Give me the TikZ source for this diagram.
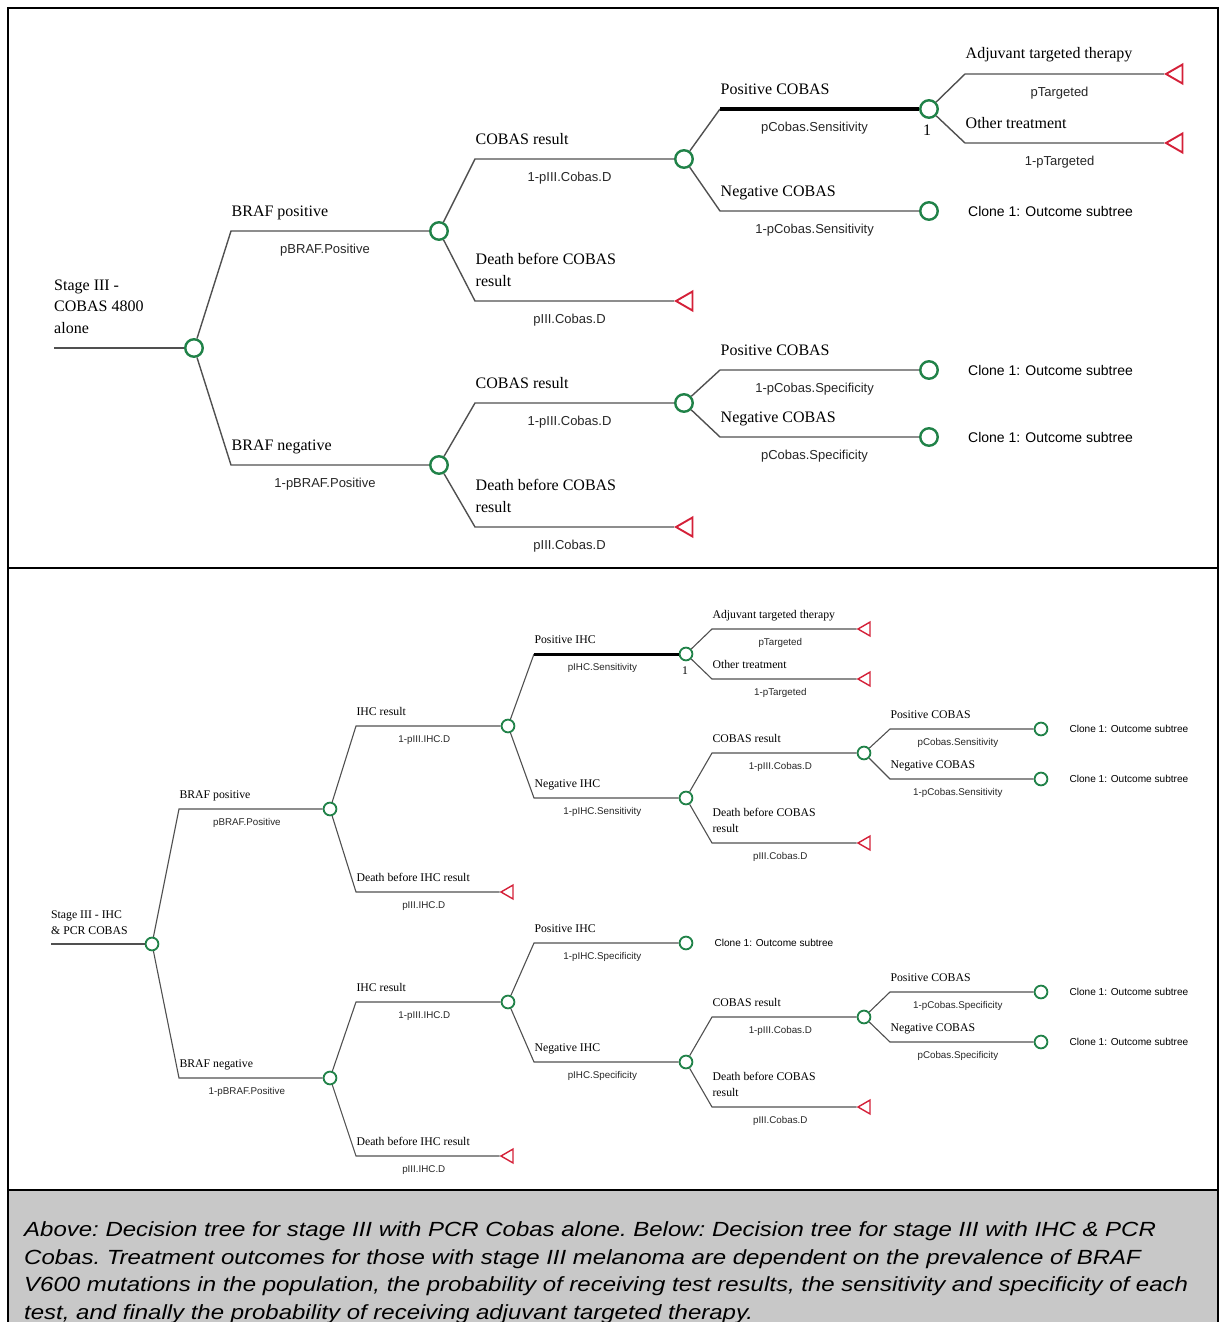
\documentclass[tikz,border=0pt]{standalone}
\usepackage{fontspec}
\setmainfont{Liberation Serif}
\setsansfont{Liberation Sans}
\newfontfamily\capfont{Liberation Sans}[FakeStretch=1.17]
\usetikzlibrary{shapes.geometric,positioning}

\definecolor{chancegreen}{RGB}{32,130,72}
\definecolor{termred}{RGB}{212,32,56}
\definecolor{capgray}{RGB}{200,200,200}
\definecolor{branchgray}{RGB}{80,80,80}

\begin{document}
\begin{tikzpicture}[x=1pt, y=-1pt,
  chance/.style={circle, draw=chancegreen, line width=2.4pt, fill=white, minimum size=17.5pt, inner sep=0pt},
  term/.style={regular polygon, regular polygon sides=3, shape border rotate=90, draw=termred, line width=1.9pt, minimum size=22pt, inner sep=0pt},
  branch/.style={draw=branchgray, line width=1.4pt},
  best/.style={draw=black, line width=4pt},
  lbl/.style={font=\fontsize{16}{21.5}\selectfont, anchor=base west, inner sep=0pt, align=left},
  tag/.style={lbl, yshift=15pt},
  prob/.style={font=\sffamily\fontsize{13}{15}\selectfont, text=black!85, anchor=base, inner sep=0pt, midway, xshift=-5pt, yshift=-22pt},
  clone/.style={font=\sffamily\fontsize{14}{16}\selectfont, anchor=west, inner sep=0pt},
  one/.style={font=\fontsize{16}{18}\selectfont, anchor=base, inner sep=0pt, xshift=-2pt, yshift=-26pt},
  frame/.style={draw=black, line width=2pt}]
\useasboundingbox (0,0) rectangle (1224,1322);

% panels and caption box
\fill[capgray] (8,1190) rectangle (1218,1322);
\draw[frame] (8,8) rectangle (1218,568);
\draw[frame] (8,568) rectangle (1218,1190);
\draw[frame] (8,1322) -- (8,1190) -- (1218,1190) -- (1218,1322);

%%% Stage III - COBAS 4800 alone
\node[lbl] (atitle) at (54,333) {Stage III -\\COBAS 4800\\alone};
\coordinate (a0) at (54,348);
\node[chance] (a) at (194,348) {};
\draw[branch] (a0) -- (a);

% elbows
\coordinate (a1e) at (231,231);
\coordinate (a2e) at (231,465);
\coordinate (a11e) at (475,159);
\coordinate (a12e) at (475,301);
\coordinate (a111e) at (720,109);
\coordinate (a112e) at (720,211);
\coordinate (a1111e) at (965,74);
\coordinate (a1112e) at (965,143);
\coordinate (a21e) at (475,403);
\coordinate (a22e) at (475,527);
\coordinate (a211e) at (720,370);
\coordinate (a212e) at (720,437);

% chance and terminal nodes
\node[chance] (a1) at (439,231) {};
\node[chance] (a2) at (439,465) {};
\node[chance] (a11) at (684,159) {};
\node[term] (a12) at (687,301) {};
\node[chance] (a111) at (929,109) {};
\node[chance] (a112) at (929,211) {};
\node[term] (a1111) at (1177,74) {};
\node[term] (a1112) at (1177,143) {};
\node[chance] (a21) at (684,403) {};
\node[term] (a22) at (687,527) {};
\node[chance] (a211) at (929,370) {};
\node[chance] (a212) at (929,437) {};

% branches
\draw[branch] (a) -- (a1e) node[tag] {BRAF positive} -- (a1) node[prob] {pBRAF.Positive};
\draw[branch] (a) -- (a2e) node[tag] {BRAF negative} -- (a2) node[prob] {1-pBRAF.Positive};
\draw[branch] (a1) -- (a11e) node[tag] {COBAS result} -- (a11) node[prob] {1-pIII.Cobas.D};
\draw[branch] (a1) -- (a12e) node[tag] {Death before COBAS\\result} -- (a12) node[prob] {pIII.Cobas.D};
\draw[branch] (a11) -- (a111e) node[tag] {Positive COBAS};
\draw[best] (a111e) -- (a111) node[prob] {pCobas.Sensitivity};
\draw[branch] (a11) -- (a112e) node[tag] {Negative COBAS} -- (a112) node[prob] {1-pCobas.Sensitivity};
\draw[branch] (a111) -- (a1111e) node[tag] {Adjuvant targeted therapy} -- (a1111) node[prob] {pTargeted};
\draw[branch] (a111) -- (a1112e) node[tag] {Other treatment} -- (a1112) node[prob] {1-pTargeted};
\draw[branch] (a2) -- (a21e) node[tag] {COBAS result} -- (a21) node[prob] {1-pIII.Cobas.D};
\draw[branch] (a2) -- (a22e) node[tag] {Death before COBAS\\result} -- (a22) node[prob] {pIII.Cobas.D};
\draw[branch] (a21) -- (a211e) node[tag] {Positive COBAS} -- (a211) node[prob] {1-pCobas.Specificity};
\draw[branch] (a21) -- (a212e) node[tag] {Negative COBAS} -- (a212) node[prob] {pCobas.Specificity};

\node[one] (a111one) at (a111) {1};
\node[clone, right=29pt of a112] (a112c) {Clone 1: Outcome subtree};
\node[clone, right=29pt of a211] (a211c) {Clone 1: Outcome subtree};
\node[clone, right=29pt of a212] (a212c) {Clone 1: Outcome subtree};

%%% Stage III - IHC & PCR COBAS (smaller drawing)
\begin{scope}[
  chance/.style={circle, draw=chancegreen, line width=1.8pt, fill=white, minimum size=12.8pt, inner sep=0pt},
  term/.style={regular polygon, regular polygon sides=3, shape border rotate=90, draw=termred, line width=1.4pt, minimum size=16pt, inner sep=0pt},
  branch/.style={draw=branchgray, line width=1.1pt},
  best/.style={draw=black, line width=3pt},
  lbl/.style={font=\fontsize{11.75}{15.5}\selectfont, anchor=base west, inner sep=0pt, align=left},
  tag/.style={lbl, yshift=11pt},
  prob/.style={font=\sffamily\fontsize{9.8}{12}\selectfont, text=black!85, anchor=base, inner sep=0pt, midway, xshift=-4pt, yshift=-16.5pt},
  clone/.style={font=\sffamily\fontsize{10.1}{12}\selectfont, anchor=west, inner sep=0pt},
  one/.style={font=\fontsize{11.75}{14}\selectfont, anchor=base, inner sep=0pt, xshift=-1pt, yshift=-20pt}]

\node[lbl] (btitle) at (51,934) {Stage III - IHC\\\& PCR COBAS};
\coordinate (b0) at (51,944);
\node[chance] (b) at (152,944) {};
\draw[branch] (b0) -- (b);

% elbows
\coordinate (b1e) at (179,809);
\coordinate (b2e) at (179,1078);
\coordinate (b11e) at (356,726);
\coordinate (b12e) at (356,892);
\coordinate (b111e) at (534,654);
\coordinate (b112e) at (534,798);
\coordinate (b1111e) at (712,629);
\coordinate (b1112e) at (712,679);
\coordinate (b1121e) at (712,753);
\coordinate (b1122e) at (712,843);
\coordinate (b11211e) at (890,729);
\coordinate (b11212e) at (890,779);
\coordinate (b21e) at (356,1002);
\coordinate (b22e) at (356,1156);
\coordinate (b211e) at (534,943);
\coordinate (b212e) at (534,1062);
\coordinate (b2121e) at (712,1017);
\coordinate (b2122e) at (712,1107);
\coordinate (b21211e) at (890,992);
\coordinate (b21212e) at (890,1042);

% chance and terminal nodes
\node[chance] (b1) at (330,809) {};
\node[chance] (b2) at (330,1078) {};
\node[chance] (b11) at (508,726) {};
\node[term] (b12) at (509,892) {};
\node[chance] (b111) at (686,654) {};
\node[chance] (b112) at (686,798) {};
\node[term] (b1111) at (866,629) {};
\node[term] (b1112) at (866,679) {};
\node[chance] (b1121) at (864,753) {};
\node[term] (b1122) at (866,843) {};
\node[chance] (b11211) at (1041,729) {};
\node[chance] (b11212) at (1041,779) {};
\node[chance] (b21) at (508,1002) {};
\node[term] (b22) at (509,1156) {};
\node[chance] (b211) at (686,943) {};
\node[chance] (b212) at (686,1062) {};
\node[chance] (b2121) at (864,1017) {};
\node[term] (b2122) at (866,1107) {};
\node[chance] (b21211) at (1041,992) {};
\node[chance] (b21212) at (1041,1042) {};

% branches
\draw[branch] (b) -- (b1e) node[tag] {BRAF positive} -- (b1) node[prob] {pBRAF.Positive};
\draw[branch] (b) -- (b2e) node[tag] {BRAF negative} -- (b2) node[prob] {1-pBRAF.Positive};
\draw[branch] (b1) -- (b11e) node[tag] {IHC result} -- (b11) node[prob] {1-pIII.IHC.D};
\draw[branch] (b1) -- (b12e) node[tag] {Death before IHC result} -- (b12) node[prob] {pIII.IHC.D};
\draw[branch] (b11) -- (b111e) node[tag] {Positive IHC};
\draw[best] (b111e) -- (b111) node[prob] {pIHC.Sensitivity};
\draw[branch] (b11) -- (b112e) node[tag] {Negative IHC} -- (b112) node[prob] {1-pIHC.Sensitivity};
\draw[branch] (b111) -- (b1111e) node[tag] {Adjuvant targeted therapy} -- (b1111) node[prob] {pTargeted};
\draw[branch] (b111) -- (b1112e) node[tag] {Other treatment} -- (b1112) node[prob] {1-pTargeted};
\draw[branch] (b112) -- (b1121e) node[tag] {COBAS result} -- (b1121) node[prob] {1-pIII.Cobas.D};
\draw[branch] (b112) -- (b1122e) node[tag] {Death before COBAS\\result} -- (b1122) node[prob] {pIII.Cobas.D};
\draw[branch] (b1121) -- (b11211e) node[tag] {Positive COBAS} -- (b11211) node[prob] {pCobas.Sensitivity};
\draw[branch] (b1121) -- (b11212e) node[tag] {Negative COBAS} -- (b11212) node[prob] {1-pCobas.Sensitivity};
\draw[branch] (b2) -- (b21e) node[tag] {IHC result} -- (b21) node[prob] {1-pIII.IHC.D};
\draw[branch] (b2) -- (b22e) node[tag] {Death before IHC result} -- (b22) node[prob] {pIII.IHC.D};
\draw[branch] (b21) -- (b211e) node[tag] {Positive IHC} -- (b211) node[prob] {1-pIHC.Specificity};
\draw[branch] (b21) -- (b212e) node[tag] {Negative IHC} -- (b212) node[prob] {pIHC.Specificity};
\draw[branch] (b212) -- (b2121e) node[tag] {COBAS result} -- (b2121) node[prob] {1-pIII.Cobas.D};
\draw[branch] (b212) -- (b2122e) node[tag] {Death before COBAS\\result} -- (b2122) node[prob] {pIII.Cobas.D};
\draw[branch] (b2121) -- (b21211e) node[tag] {Positive COBAS} -- (b21211) node[prob] {1-pCobas.Specificity};
\draw[branch] (b2121) -- (b21212e) node[tag] {Negative COBAS} -- (b21212) node[prob] {pCobas.Specificity};

\node[one] (b111one) at (b111) {1};
\node[clone, right=21pt of b11211] (b11211c) {Clone 1: Outcome subtree};
\node[clone, right=21pt of b11212] (b11212c) {Clone 1: Outcome subtree};
\node[clone, right=21pt of b211] (b211c) {Clone 1: Outcome subtree};
\node[clone, right=21pt of b21211] (b21211c) {Clone 1: Outcome subtree};
\node[clone, right=21pt of b21212] (b21212c) {Clone 1: Outcome subtree};
\end{scope}

% caption
\node[font=\capfont\itshape\fontsize{20.5}{27.5}\selectfont\frenchspacing, anchor=base west, inner sep=0pt, align=left] (cap) at (24,1319)
  {Above: Decision tree for stage III with PCR Cobas alone. Below: Decision tree for stage III with IHC \& PCR\\
   Cobas. Treatment outcomes for those with stage III melanoma are dependent on the prevalence of BRAF\\
   V600 mutations in the population, the probability of receiving test results, the sensitivity and specificity of each\\
   test, and finally the probability of receiving adjuvant targeted therapy.};
\end{tikzpicture}
\end{document}
